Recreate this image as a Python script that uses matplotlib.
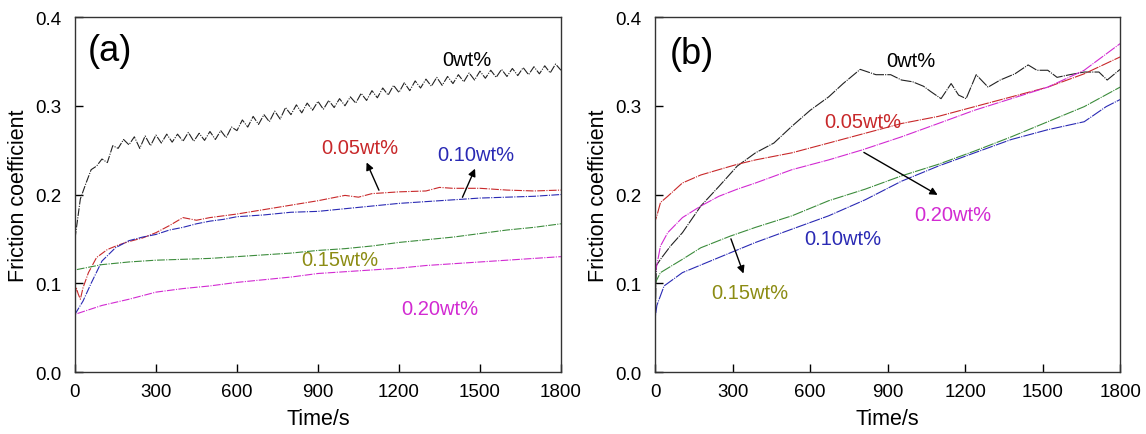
import matplotlib
matplotlib.use("Agg")
import matplotlib.pyplot as plt

plt.rcParams["font.family"] = ["Liberation Sans", "DejaVu Sans"]

# ---- panel (a) ----
t_a0 = list(range(0, 1801, 20))
a_0wt = [0.150, 0.195, 0.212, 0.228, 0.232, 0.240, 0.236, 0.255, 0.252, 0.262,
         0.256, 0.265, 0.252, 0.266, 0.255, 0.267, 0.258, 0.268, 0.259, 0.268,
         0.260, 0.270, 0.260, 0.269, 0.261, 0.271, 0.262, 0.272, 0.264, 0.276,
         0.272, 0.284, 0.276, 0.288, 0.279, 0.290, 0.282, 0.294, 0.285, 0.298,
         0.290, 0.301, 0.292, 0.303, 0.295, 0.305, 0.296, 0.306, 0.298, 0.308,
         0.300, 0.310, 0.303, 0.314, 0.306, 0.317, 0.309, 0.320, 0.312, 0.323,
         0.315, 0.326, 0.317, 0.328, 0.320, 0.330, 0.322, 0.332, 0.323, 0.333,
         0.325, 0.335, 0.327, 0.337, 0.329, 0.339, 0.331, 0.340, 0.332, 0.341,
         0.333, 0.342, 0.334, 0.343, 0.335, 0.344, 0.336, 0.345, 0.337, 0.347,
         0.340]

t_a05 = [0, 5, 12, 20, 30, 50, 80, 120, 160, 200, 250, 300, 350, 400, 450, 500, 600,
         700, 800, 900, 1000, 1050, 1100, 1200, 1300, 1350, 1400, 1500, 1600, 1700, 1800]
a_05wt = [0.085, 0.095, 0.088, 0.082, 0.095, 0.112, 0.129, 0.138, 0.143, 0.147, 0.151,
          0.157, 0.165, 0.174, 0.171, 0.174, 0.178, 0.183, 0.188, 0.193, 0.199, 0.197,
          0.201, 0.203, 0.204, 0.208, 0.207, 0.207, 0.205, 0.204, 0.205]

t_a10 = [0, 30, 60, 100, 150, 200, 250, 300, 350, 400, 450, 500, 550, 600, 700, 800,
         900, 1000, 1100, 1200, 1300, 1400, 1500, 1600, 1700, 1800]
a_10wt = [0.065, 0.080, 0.100, 0.125, 0.140, 0.148, 0.152, 0.155, 0.160, 0.163, 0.167,
          0.170, 0.172, 0.175, 0.177, 0.180, 0.181, 0.184, 0.187, 0.190, 0.192, 0.194,
          0.196, 0.197, 0.198, 0.200]

t_a15 = [0, 0, 50, 100, 200, 300, 400, 500, 600, 700, 800, 900, 1000, 1100, 1200,
         1300, 1400, 1500, 1600, 1700, 1800]
a_15wt = [0.0, 0.115, 0.118, 0.121, 0.124, 0.126, 0.127, 0.128, 0.130, 0.132, 0.134,
          0.137, 0.139, 0.142, 0.146, 0.149, 0.152, 0.156, 0.160, 0.163, 0.167]

t_a20 = [0, 0, 50, 100, 200, 300, 400, 500, 600, 700, 800, 900, 1000, 1100, 1200,
         1300, 1400, 1500, 1600, 1700, 1800]
a_20wt = [0.055, 0.065, 0.070, 0.075, 0.082, 0.090, 0.094, 0.097, 0.101, 0.104, 0.107,
          0.111, 0.113, 0.115, 0.117, 0.120, 0.122, 0.124, 0.126, 0.128, 0.130]

# ---- panel (b) ----
t_b0 = [0, 5, 21, 60, 106, 177, 247, 318, 389, 460, 530, 601, 672, 728, 794, 855, 912,
        954, 997, 1039, 1067, 1107, 1146, 1175, 1204, 1243, 1289, 1336, 1393, 1444,
        1478, 1520, 1556, 1605, 1661, 1718, 1750, 1800]
b_0wt = [0.050, 0.120, 0.127, 0.142, 0.157, 0.187, 0.209, 0.232, 0.247, 0.258, 0.277,
         0.295, 0.310, 0.325, 0.341, 0.335, 0.335, 0.329, 0.327, 0.322, 0.316, 0.308,
         0.325, 0.312, 0.308, 0.335, 0.321, 0.329, 0.336, 0.346, 0.340, 0.340, 0.332,
         0.335, 0.338, 0.338, 0.329, 0.341]

t_b05 = [0, 0, 7, 21, 49, 106, 177, 247, 318, 389, 530, 672, 813, 954, 1096, 1237,
         1379, 1520, 1661, 1800]
b_05wt = [0.0, 0.170, 0.176, 0.191, 0.198, 0.213, 0.222, 0.228, 0.234, 0.239, 0.247,
          0.258, 0.269, 0.280, 0.288, 0.299, 0.310, 0.321, 0.336, 0.355]

t_b10 = [0, 0, 7, 35, 106, 247, 389, 530, 672, 813, 954, 1096, 1237, 1379, 1520, 1661,
         1746, 1800]
b_10wt = [0.050, 0.060, 0.075, 0.097, 0.112, 0.129, 0.146, 0.161, 0.176, 0.194, 0.215,
          0.232, 0.247, 0.262, 0.273, 0.282, 0.299, 0.307]

t_b15 = [0, 0, 21, 106, 177, 290, 389, 530, 672, 813, 954, 1096, 1237, 1379, 1520,
         1661, 1800]
b_15wt = [0.0, 0.100, 0.112, 0.127, 0.140, 0.153, 0.163, 0.176, 0.193, 0.206, 0.221,
          0.234, 0.249, 0.265, 0.282, 0.299, 0.321]

t_b20 = [0, 0, 21, 49, 106, 177, 247, 318, 389, 530, 672, 799, 954, 1096, 1237, 1379,
         1520, 1661, 1800]
b_20wt = [0.030, 0.110, 0.142, 0.157, 0.174, 0.187, 0.198, 0.206, 0.213, 0.228, 0.239,
          0.250, 0.265, 0.280, 0.295, 0.308, 0.321, 0.340, 0.370]

xticks = [0, 300, 600, 900, 1200, 1500, 1800]
yticks = [0.0, 0.1, 0.2, 0.3, 0.4]

c_blk = "#222222"
c_red = "#c8282a"
c_blu = "#2a2ab4"
c_grn = "#3c8c3c"
c_mag = "#d22ad2"
c_olv = "#8c8c14"

fig = plt.figure(figsize=(11.46, 4.35), dpi=100)
ax1 = fig.add_axes([0.0654, 0.1425, 0.4241, 0.8161])
ax2 = fig.add_axes([0.5716, 0.1425, 0.4058, 0.8161])

ls_a = (0, (7, 1.2, 1, 1.2))
ax1.plot(t_a0, a_0wt, color=c_blk, lw=0.8, ls=ls_a)
ax1.plot(t_a05, a_05wt, color=c_red, lw=0.8, ls=ls_a)
ax1.plot(t_a10, a_10wt, color=c_blu, lw=0.8, ls=ls_a)
ax1.plot(t_a15, a_15wt, color=c_grn, lw=0.8, ls=ls_a)
ax1.plot(t_a20, a_20wt, color=c_mag, lw=0.8, ls=ls_a)

ls_b = (0, (10, 1, 1, 1))
ax2.plot(t_b0, b_0wt, color=c_blk, lw=0.8, ls=ls_b)
ax2.plot(t_b05, b_05wt, color=c_red, lw=0.8, ls=ls_b)
ax2.plot(t_b20, b_20wt, color=c_mag, lw=0.8, ls=ls_b)
ax2.plot(t_b15, b_15wt, color=c_grn, lw=0.8, ls=ls_b)
ax2.plot(t_b10, b_10wt, color=c_blu, lw=0.8, ls=ls_b)

for ax in (ax1, ax2):
    ax.set_xlim(0, 1800)
    ax.set_ylim(0, 0.4)
    ax.set_xticks(xticks)
    ax.set_yticks(yticks)
    ax.set_yticklabels(["0.0", "0.1", "0.2", "0.3", "0.4"])
    ax.tick_params(direction="in", length=6, width=1, labelsize=13.5)
    ax.tick_params(axis="x", pad=8)
    ax.tick_params(axis="y", pad=10)
    for s in ax.spines.values():
        s.set_linewidth(1.0)
        s.set_color("#333333")
    ax.set_xlabel("Time/s", fontsize=15.5, labelpad=6)
    ax.set_ylabel("Friction coefficient", fontsize=15.5, labelpad=4)

fs = 14.5
ax1.text(130, 0.362, "(a)", fontsize=26, ha="center", va="center")
ax1.text(1452, 0.352, "0wt%", color="black", fontsize=fs, ha="center", va="center")
ax1.text(1055, 0.253, "0.05wt%", color=c_red, fontsize=fs, ha="center", va="center")
ax1.text(1485, 0.245, "0.10wt%", color=c_blu, fontsize=fs, ha="center", va="center")
ax1.text(981, 0.127, "0.15wt%", color=c_olv, fontsize=fs, ha="center", va="center")
ax1.text(1352, 0.072, "0.20wt%", color=c_mag, fontsize=fs, ha="center", va="center")
ax1.annotate("", xy=(1076, 0.239), xytext=(1130, 0.202),
             arrowprops=dict(arrowstyle="-|>", color="black", lw=1, mutation_scale=11))
ax1.annotate("", xy=(1486, 0.232), xytext=(1431, 0.194),
             arrowprops=dict(arrowstyle="-|>", color="black", lw=1, mutation_scale=11))

ax2.text(141, 0.359, "(b)", fontsize=26, ha="center", va="center")
ax2.text(990, 0.351, "0wt%", color="black", fontsize=fs, ha="center", va="center")
ax2.text(806, 0.282, "0.05wt%", color=c_red, fontsize=fs, ha="center", va="center")
ax2.text(1152, 0.178, "0.20wt%", color=c_mag, fontsize=fs, ha="center", va="center")
ax2.text(728, 0.150, "0.10wt%", color=c_blu, fontsize=fs, ha="center", va="center")
ax2.text(368, 0.090, "0.15wt%", color=c_olv, fontsize=fs, ha="center", va="center")
ax2.annotate("", xy=(1103, 0.198), xytext=(799, 0.249),
             arrowprops=dict(arrowstyle="-|>", color="black", lw=1, mutation_scale=11))
ax2.annotate("", xy=(346, 0.108), xytext=(290, 0.153),
             arrowprops=dict(arrowstyle="-|>", color="black", lw=1, mutation_scale=11))

fig.savefig("out.png", dpi=100)
